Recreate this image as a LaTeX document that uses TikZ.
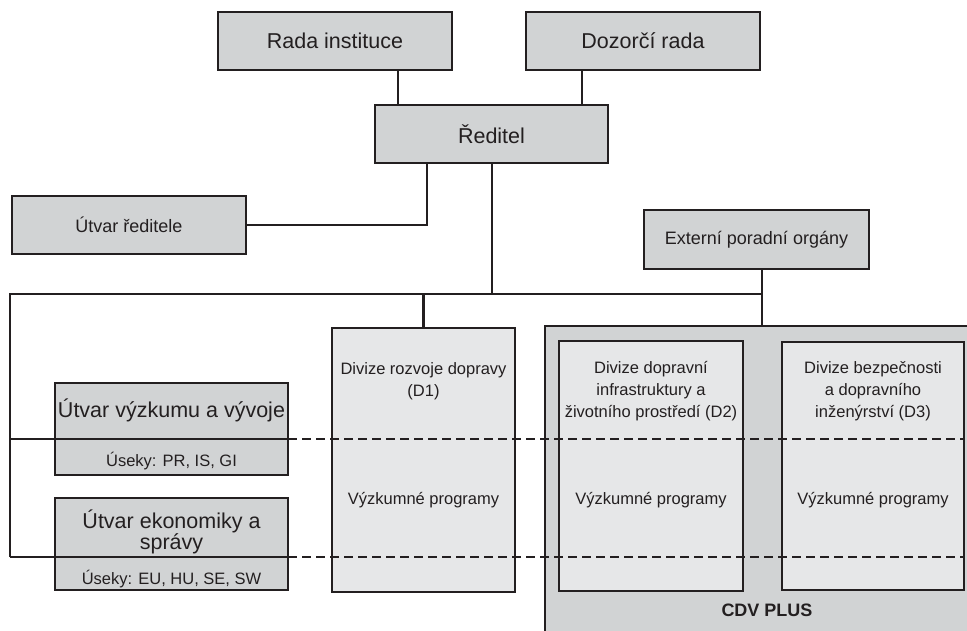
\documentclass[tikz,border=0pt]{standalone}
\usepackage{fontspec}
\setmainfont{Liberation Sans}
\definecolor{ink}{HTML}{231F20}
\definecolor{boxgray}{HTML}{D1D3D4}
\definecolor{boxlight}{HTML}{E6E7E8}
\begin{document}
\begin{tikzpicture}[x=1pt,y=-1pt,
  conn/.style={line width=2.4pt, draw=ink},
  dline/.style={line width=2.5pt, draw=ink, dash pattern=on 9pt off 5pt},
  box/.style={draw=ink, line width=2.8pt, fill=boxgray, inner sep=0pt, outer sep=0pt, align=center, text=ink},
  divbox/.style={box, fill=boxlight},
  txt/.style={inner sep=0pt, outer sep=0pt, align=center, text=ink},
  big/.style={font=\fontsize{21.5}{21}\selectfont},
  mid/.style={font=\fontsize{18}{21}\selectfont},
  small/.style={font=\fontsize{16.5}{21.7}\selectfont},
]
\useasboundingbox (0,0) rectangle (967,630);
\clip (0,0) rectangle (967,630);

% top boxes
\node[box, big, minimum width=234, minimum height=58] (rada) at (335,41) {Rada instituce};
\node[box, big, minimum width=234, minimum height=58] (dozor) at (643,41) {Dozorčí rada};
\node[box, big, minimum width=233, minimum height=58] (reditel) at (491.5,134) {Ředitel};
\node[box, mid, minimum width=234, minimum height=58] (utvred) at (129,225) {Útvar ředitele};
\node[box, mid, minimum width=225, minimum height=59] (ext) at (756.5,239.5) {Externí poradní orgány};

% connectors at top
\draw[conn] ([xshift=180]rada.south west) -- ([xshift=180]rada.south west |- reditel.north);
\draw[conn] ([xshift=56]dozor.south west) -- ([xshift=56]dozor.south west |- reditel.north);
\draw[conn] ([xshift=52]reditel.south west) |- (utvred.east);

% bus
\coordinate (busL) at (10,294);
\coordinate (busR) at (762,294);
\coordinate (lv1) at (10,439);
\coordinate (lv2) at (10,557);
\draw[conn] ([xshift=117]reditel.south west) -- ([xshift=117]reditel.south west |- busL);
\draw[conn] (lv2) -- (busL) -- (busR);

% CDV PLUS area
\node[box, minimum width=435, minimum height=320, anchor=north west] (cdv) at (545,326) {};
\node[txt, font=\fontsize{18}{21}\selectfont\bfseries] (cdvt) at (767,610) {CDV PLUS};
\draw[conn] ([xshift=118]ext.south west) -- ([xshift=118]ext.south west |- cdv.north);

% divisions
\node[divbox, minimum width=183, minimum height=264] (d1) at (423.5,460) {};
\node[divbox, minimum width=184, minimum height=250] (d2) at (651,466) {};
\node[divbox, minimum width=182, minimum height=248] (d3) at (873,466) {};
\draw[conn] (d1.north |- busL) -- (d1.north);

\node[txt, small] (d1t) at (423.5,381) {Divize rozvoje dopravy\\(D1)};
\node[txt, small] (d2t) at (651,391) {Divize dopravní\\infrastruktury a\\životního prostředí (D2)};
\node[txt, small] (d3t) at (873,391) {Divize bezpečnosti\\a dopravního\\inženýrství (D3)};
\node[txt, small] (d1p) at (423.5,500) {Výzkumné programy};
\node[txt, small] (d2p) at (651,500) {Výzkumné programy};
\node[txt, small] (d3p) at (873,500) {Výzkumné programy};

% units
\node[box, minimum width=233, minimum height=92] (uvv) at (171.5,429) {};
\node[box, minimum width=233, minimum height=92] (uek) at (171.5,544) {};
\node[txt, big] (uvvt) at (171.5,410) {Útvar výzkumu a vývoje};
\node[txt, small] (uvvs) at (171.5,461) {Úseky: PR, IS, GI};
\node[txt, big] (uekt) at (171.5,532) {Útvar ekonomiky a\\správy};
\node[txt, small] (ueks) at (171.5,579) {Úseky: EU, HU, SE, SW};

% horizontal lines through units and divisions
\draw[conn] (lv1) -- (uvv.east |- lv1);
\draw[dline] (uvv.east |- lv1) -- (d3.east |- lv1);
\draw[conn] (lv2) -- (uek.east |- lv2);
\draw[dline] (uek.east |- lv2) -- (d3.east |- lv2);
\end{tikzpicture}
\end{document}
